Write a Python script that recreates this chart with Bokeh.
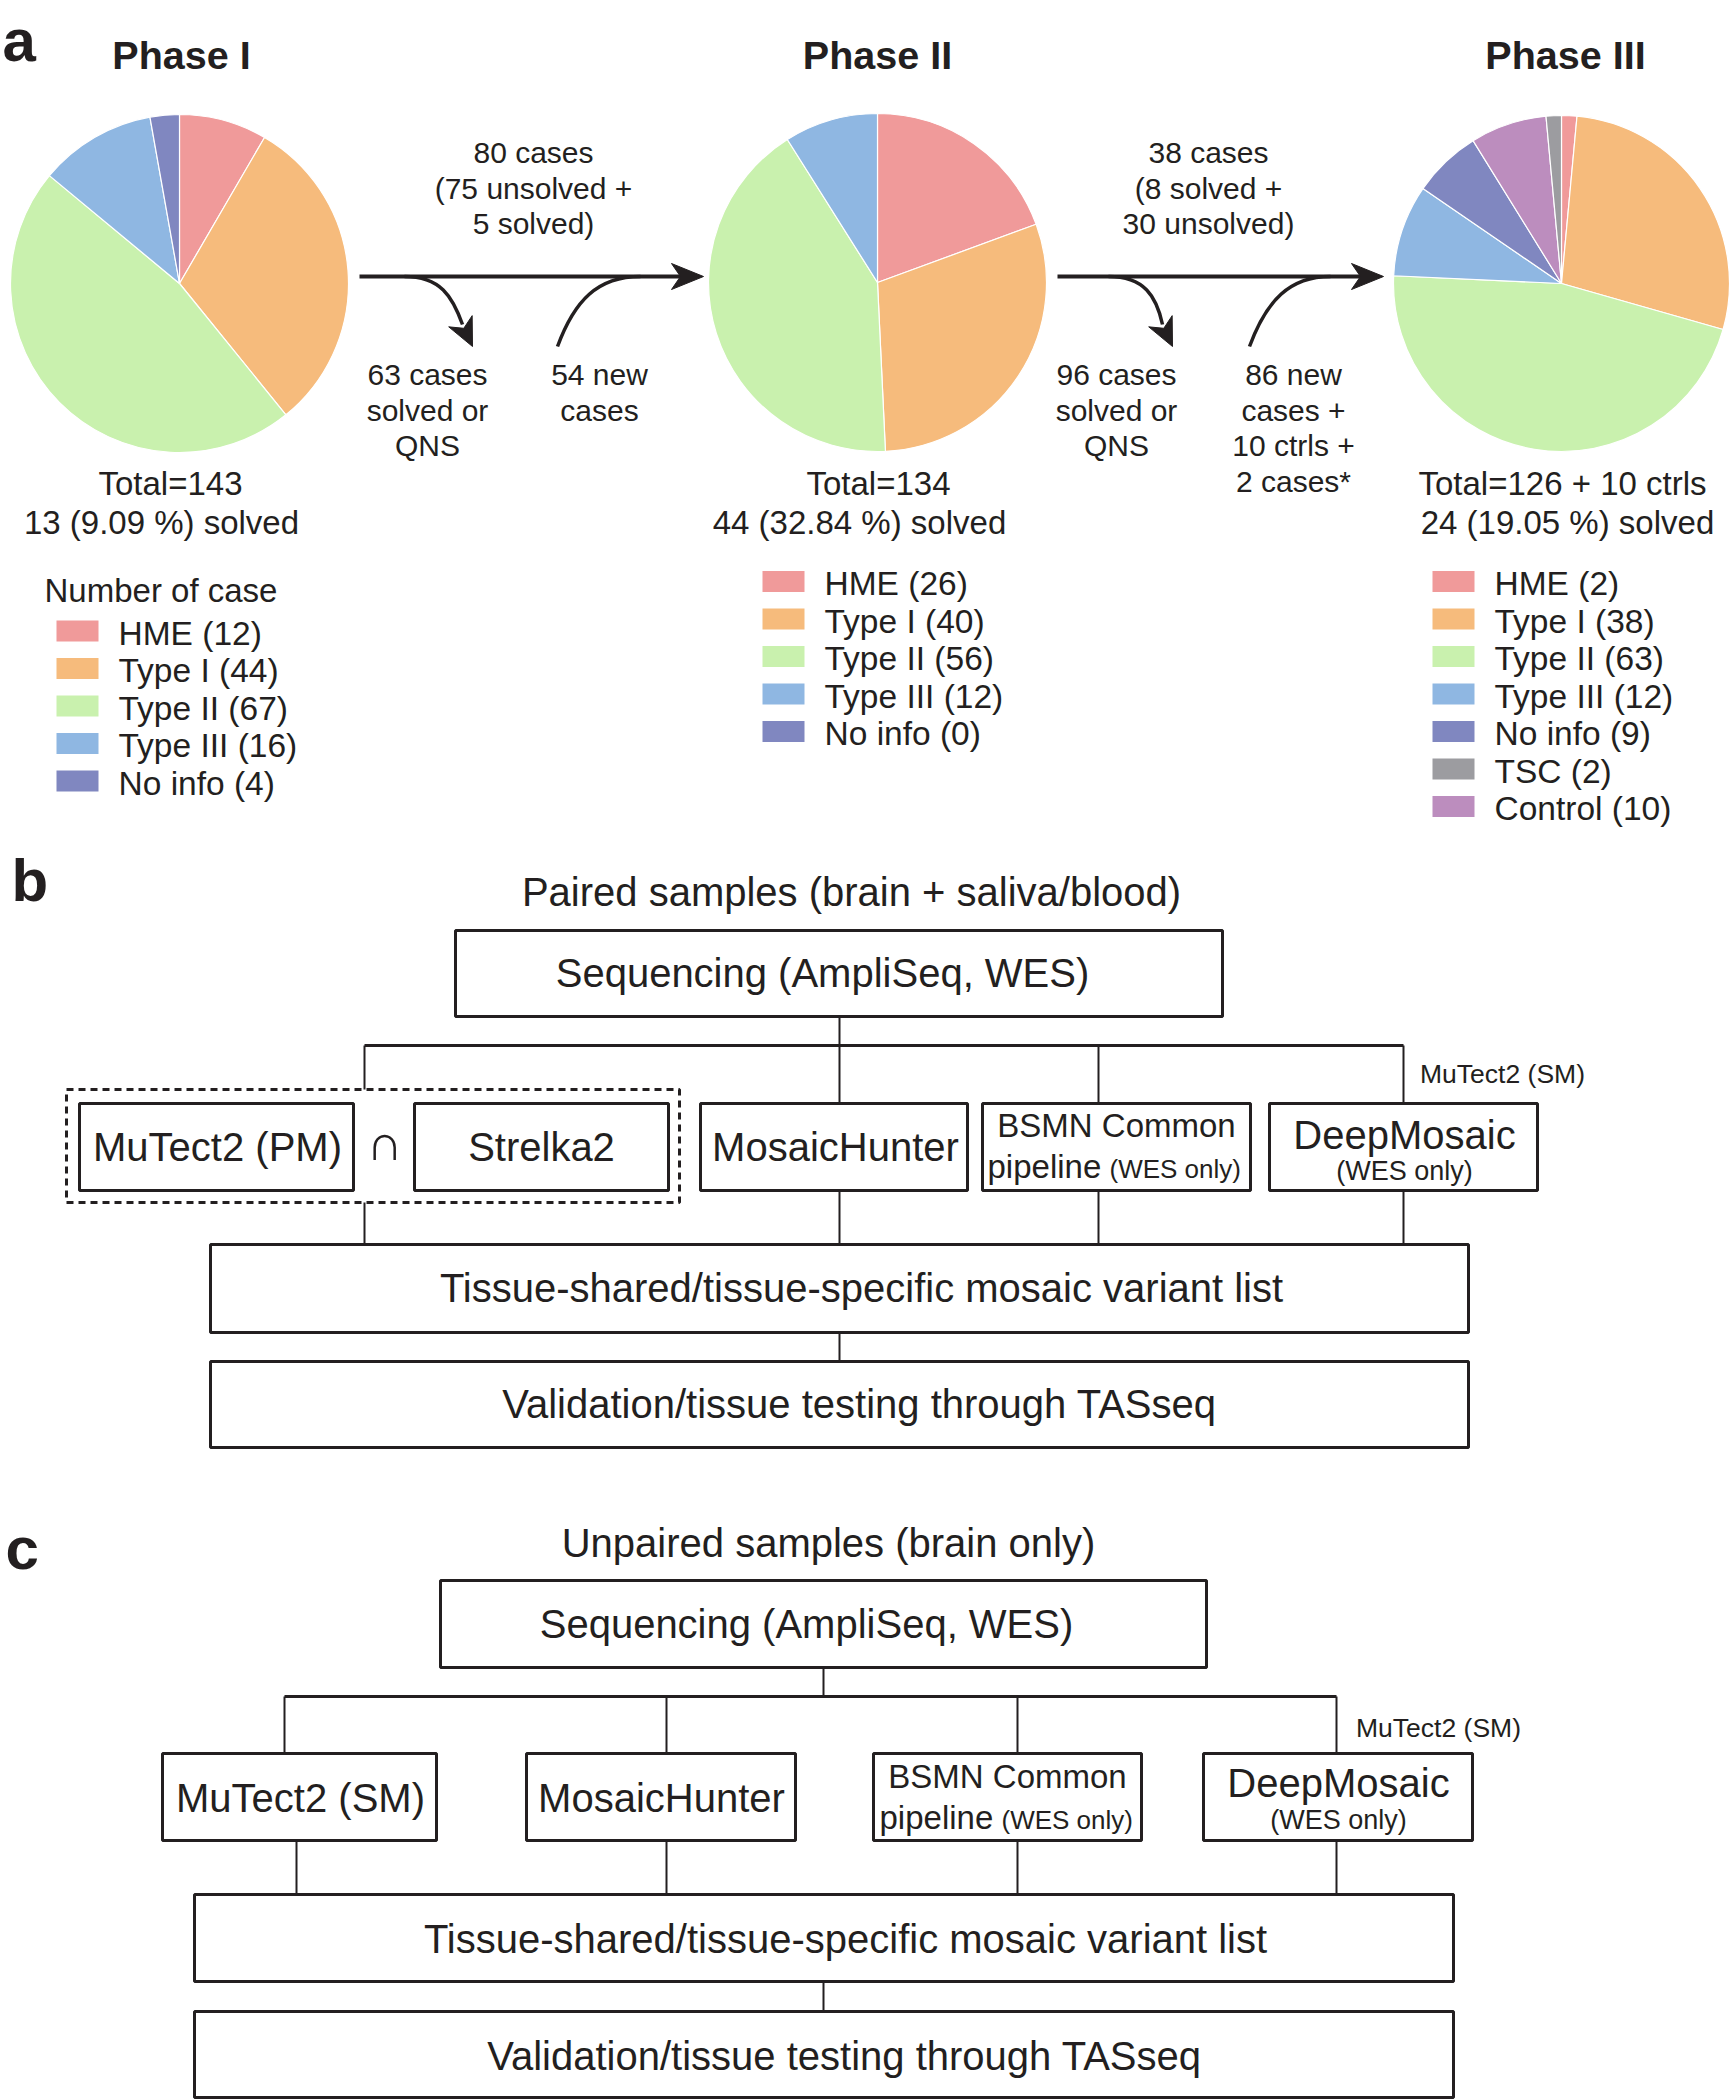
import numpy as np
from bokeh.plotting import figure
from bokeh.models import Range1d, ColumnDataSource
from bokeh.core.properties import value
from bokeh.embed import file_html
from bokeh.resources import INLINE

# ---------------- data ----------------
phase_titles = ["Phase I", "Phase II", "Phase III"]
legend_title = "Number of case"

p1_cats = ["HME", "Type I", "Type II", "Type III", "No info"]
p1_vals = [12, 44, 67, 16, 4]
p2_cats = ["HME", "Type I", "Type II", "Type III", "No info"]
p2_vals = [26, 40, 56, 12, 0]
p3_cats = ["HME", "Type I", "Type II", "Type III", "No info", "TSC", "Control"]
p3_vals = [2, 38, 63, 12, 9, 2, 10]
p3_pie_order = ["HME", "Type I", "Type II", "Type III", "No info", "Control", "TSC"]

totals_1 = ["Total=143", "13 (9.09 %) solved"]
totals_2 = ["Total=134", "44 (32.84 %) solved"]
totals_3 = ["Total=126 + 10 ctrls", "24 (19.05 %) solved"]

flow1_top = ["80 cases", "(75 unsolved +", "5 solved)"]
flow1_out = ["63 cases", "solved or", "QNS"]
flow1_in = ["54 new", "cases"]
flow2_top = ["38 cases", "(8 solved +", "30 unsolved)"]
flow2_out = ["96 cases", "solved or", "QNS"]
flow2_in = ["86 new", "cases +", "10 ctrls +", "2 cases*"]

b_title = "Paired samples (brain + saliva/blood)"
c_title = "Unpaired samples (brain only)"
seq_label = "Sequencing (AmpliSeq, WES)"
variant_label = "Tissue-shared/tissue-specific mosaic variant list"
valid_label = "Validation/tissue testing through TASseq"

colors = {
    "HME": "#F09A9A", "Type I": "#F6BB7C", "Type II": "#C9F1AE",
    "Type III": "#8FB7E2", "No info": "#8087C0", "TSC": "#9C9CA0",
    "Control": "#BC8DBE",
}

INK = "#231f20"
FONT = "Liberation Sans"
BIG = 40      # box text size
MID = 33      # totals / legend / BSMN
FLOW = 30     # arrow labels
SMALL = 26.5  # small notes

# ---------------- figure ----------------
p = figure(width=1730, height=2100, x_range=Range1d(0, 1730), y_range=Range1d(2100, 0),
           output_backend="svg", toolbar_location=None, min_border=0)
p.axis.visible = False
p.grid.visible = False
p.outline_line_color = None
p.background_fill_color = "white"
p.border_fill_color = "white"


def txt(xs, ys, texts, size, bold=False, align="center", color=INK):
    p.text(x=xs, y=ys, text=texts, text_font=value(FONT), text_font_size=value(f"{size}px"),
           text_font_style="bold" if bold else "normal", text_align=align,
           text_baseline="middle", text_color=color)


def pie(cx, cy, r, cats, vals, order):
    lookup = dict(zip(cats, vals))
    names = [c for c in order if lookup[c] > 0]
    v = np.array([lookup[c] for c in names], dtype=float)
    tot = v.sum()
    end_cw = np.cumsum(v) / tot * 2 * np.pi
    start_cw = end_cw - v / tot * 2 * np.pi
    src = ColumnDataSource(dict(
        x=[cx] * len(names), y=[cy] * len(names),
        start=list(np.pi / 2 - end_cw), end=list(np.pi / 2 - start_cw),
        color=[colors[c] for c in names]))
    p.wedge(x="x", y="y", radius=r, start_angle="start", end_angle="end",
            fill_color="color", line_color="white", line_width=1.2, source=src)


def legend(x_sw, y0, cats, vals, dy=37.5):
    ys = [y0 + i * dy for i in range(len(cats))]
    p.rect(x=[x_sw + 21] * len(cats), y=ys, width=42, height=21,
           fill_color=[colors[c] for c in cats], line_color=None)
    txt([x_sw + 62] * len(cats), [y + 2 for y in ys],
        [f"{c} ({v})" for c, v in zip(cats, vals)], 33.5, align="left")


def head(tip, d, L, w):
    d = np.array(d, dtype=float)
    d = d / np.hypot(*d)
    n = np.array([-d[1], d[0]])
    t = np.array(tip, dtype=float)
    pts = [t, t - L * d + w * n, t - 0.72 * L * d, t - L * d - w * n]
    p.patch([q[0] for q in pts], [q[1] for q in pts], fill_color=INK, line_color=INK, line_width=1)


# ---------------- panel a ----------------
txt([2], [40], ["a"], 60, bold=True, align="left")
txt([181, 877, 1565], [54, 54, 54], phase_titles, 39.5, bold=True)

pie(179, 283, 169, p1_cats, p1_vals, p1_cats)
pie(877, 282, 169, p2_cats, p2_vals, p2_cats)
pie(1561, 283, 168, p3_cats, p3_vals, p3_pie_order)

txt([170, 161], [483, 522], totals_1, MID)
txt([878, 859], [483, 522], totals_2, MID)
txt([1562, 1567], [483, 522], totals_3, MID)

txt([44], [590], [legend_title], MID, align="left")
legend(56, 630.5, p1_cats, p1_vals)
legend(762, 581, p2_cats, p2_vals)
legend(1432, 581, p3_cats, p3_vals)

# flow arrows
for (x0, x1, xo0, xo_c1, xo_c2, xo1, yo1, xi0, xi_c1, xi_c2, xi1) in [
        (359, 703, 404, 440, 452, 462, 324, 557, 574, 597, 640),
        (1057, 1383, 1108, 1144, 1156, 1162, 324, 1249, 1266, 1289, 1330)]:
    p.line([x0, x1 - 20], [276, 276], line_color=INK, line_width=4)
    head((x1, 276), (1, 0), 32, 13)
    p.bezier(x0=[xo0], y0=[276], x1=[xo1], y1=[yo1], cx0=[xo_c1], cy0=[276],
             cx1=[xo_c2], cy1=[296], line_color=INK, line_width=3.5)
    head((xo1 + 10, yo1 + 22), (0.43, 0.9), 28, 13)
    p.bezier(x0=[xi0], y0=[346], x1=[xi1], y1=[276], cx0=[xi_c1], cy0=[300],
             cx1=[xi_c2], cy1=[276], line_color=INK, line_width=3.5)

ls = 35.5
txt([533] * 3, [152 + i * ls for i in range(3)], flow1_top, FLOW)
txt([427] * 3, [374 + i * ls for i in range(3)], flow1_out, FLOW)
txt([599] * 2, [374 + i * ls for i in range(2)], flow1_in, FLOW)
txt([1208] * 3, [152 + i * ls for i in range(3)], flow2_top, FLOW)
txt([1116] * 3, [374 + i * ls for i in range(3)], flow2_out, FLOW)
txt([1293] * 4, [374 + i * ls for i in range(4)], flow2_in, FLOW)


# ---------------- panels b & c ----------------
def box(l, r, t, b, dash="solid", lw=3):
    p.quad(left=[l], right=[r], top=[t], bottom=[b], fill_color=None,
           line_color=INK, line_width=lw, line_dash=dash)


def seg(xs, ys, lw=2):
    p.line(xs, ys, line_color=INK, line_width=lw)


# panel b
txt([11], [880], ["b"], 60, bold=True, align="left")
txt([851], [891], [b_title], BIG)
box(455, 1222, 930, 1016)
txt([822], [972], [seq_label], BIG)
seg([839, 839], [1016, 1045])
seg([364, 1403], [1045, 1045], lw=3)
for xv, yb in [(364, 1089), (839, 1103), (1098, 1103), (1403, 1103)]:
    seg([xv, xv], [1045, yb])
txt([1502], [1073], ["MuTect2 (SM)"], SMALL)
box(66, 679, 1089, 1202, dash="7 5", lw=3)
box(79, 353, 1103, 1190)
box(414, 668, 1103, 1190)
box(700, 967, 1103, 1190)
box(982, 1250, 1103, 1190)
box(1269, 1537, 1103, 1190)
txt([217, 541, 835], [1146, 1146, 1146], ["MuTect2 (PM)", "Strelka2", "MosaicHunter"], BIG)
txt([384], [1142], ["\u2229"], 50)
txt([1116], [1125], ["BSMN Common"], MID)
txt([987], [1166], ["pipeline"], MID, align="left")
txt([1109], [1168], ["(WES only)"], 26, align="left")
txt([1404], [1134], ["DeepMosaic"], BIG)
txt([1404], [1170], ["(WES only)"], 27)
for xv, yt in [(364, 1202), (839, 1190), (1098, 1190), (1403, 1190)]:
    seg([xv, xv], [yt, 1244])
box(210, 1468, 1244, 1332)
txt([861], [1287], [variant_label], BIG)
seg([839, 839], [1332, 1361])
box(210, 1468, 1361, 1447)
txt([859], [1403], [valid_label], BIG)

# panel c
txt([5], [1548], ["c"], 60, bold=True, align="left")
txt([828], [1542], [c_title], BIG)
box(440, 1206, 1580, 1667)
txt([806], [1623], [seq_label], BIG)
seg([823, 823], [1667, 1696])
seg([284, 1336], [1696, 1696], lw=3)
for xv in [284, 666, 1017, 1336]:
    seg([xv, xv], [1696, 1753])
txt([1438], [1727], ["MuTect2 (SM)"], SMALL)
box(162, 436, 1753, 1840)
box(526, 795, 1753, 1840)
box(873, 1141, 1753, 1840)
box(1203, 1472, 1753, 1840)
txt([300, 661], [1797, 1797], ["MuTect2 (SM)", "MosaicHunter"], BIG)
txt([1007], [1776], ["BSMN Common"], MID)
txt([879], [1817], ["pipeline"], MID, align="left")
txt([1001], [1819], ["(WES only)"], 26, align="left")
txt([1338], [1782], ["DeepMosaic"], BIG)
txt([1338], [1819], ["(WES only)"], 27)
for xv in [296, 666, 1017, 1336]:
    seg([xv, xv], [1840, 1894])
box(194, 1453, 1894, 1981)
txt([845], [1938], [variant_label], BIG)
seg([823, 823], [1981, 2011])
box(194, 1453, 2011, 2097)
txt([844], [2055], [valid_label], BIG)

open("out.html", "w").write(file_html(p, INLINE))
